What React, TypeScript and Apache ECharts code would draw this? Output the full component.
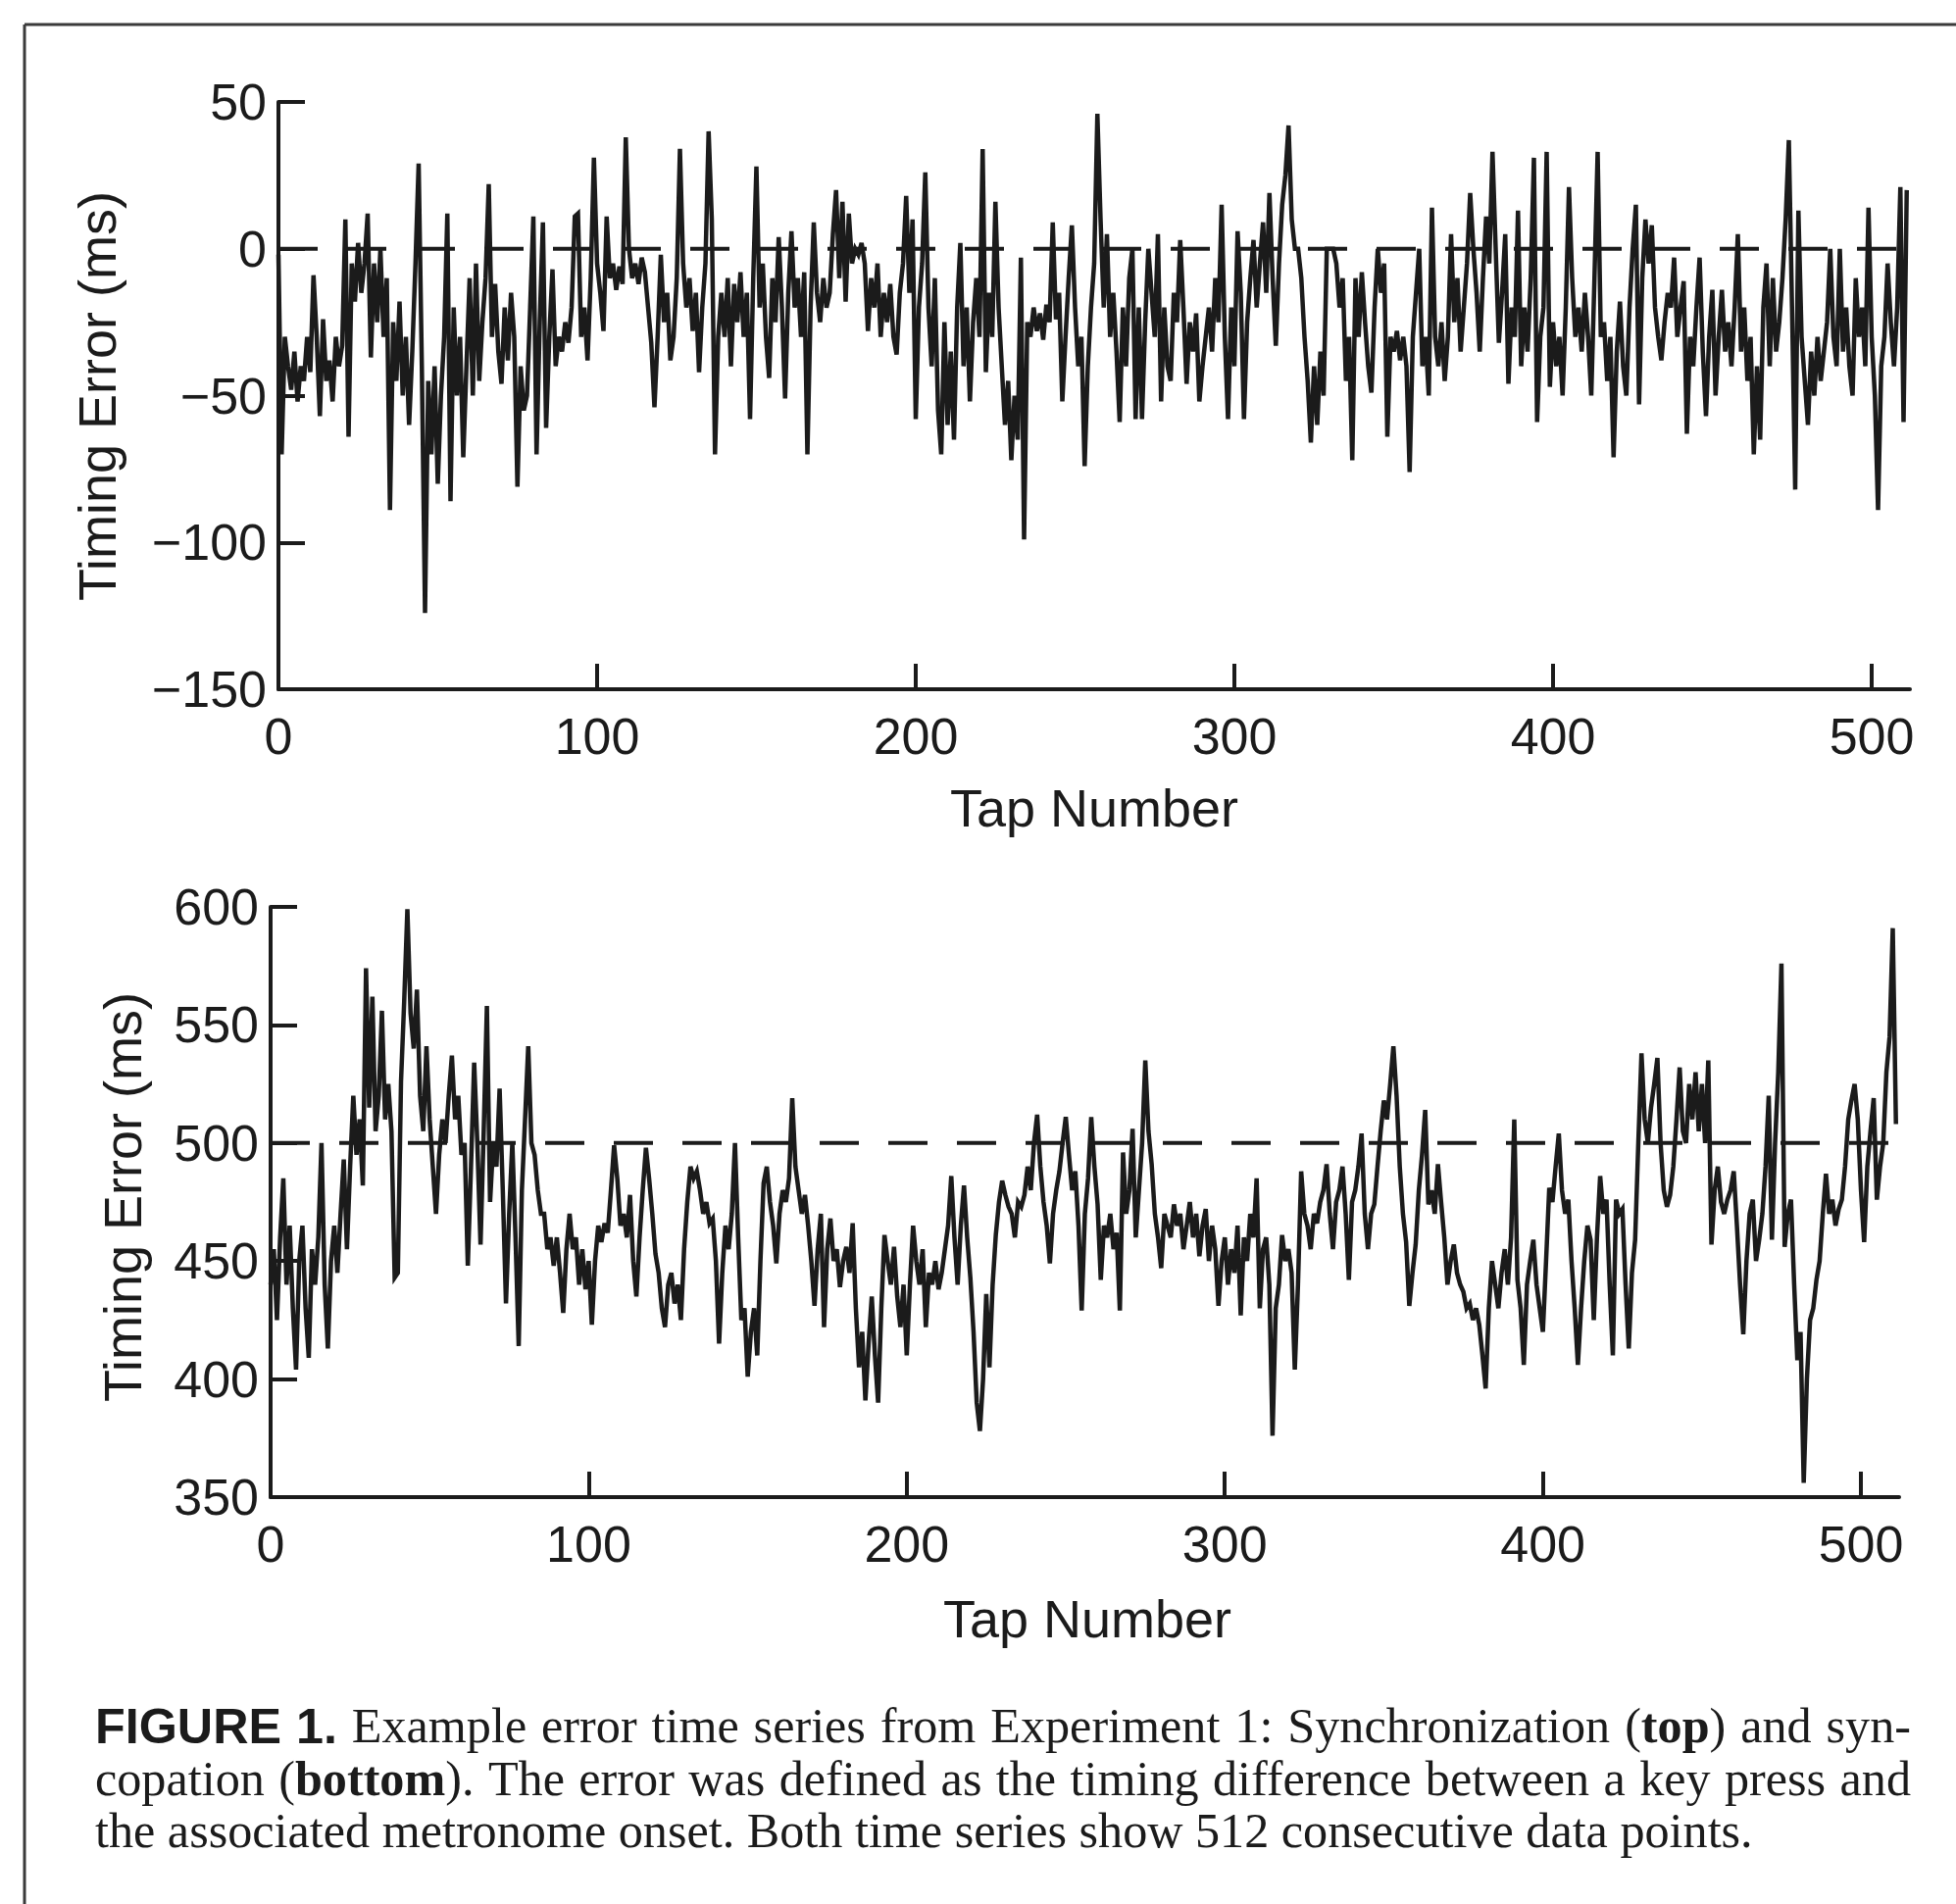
import React, { useEffect, useRef } from "react";
import * as echarts from "echarts";

const W = 1995;
const H = 1942;

const xTickValues = [0, 100, 200, 300, 400, 500];
const tapCount = 512;

const syncRef = 0;
const syncoRef = 500;

// Synchronization timing error (ms), taps 0..511
const syncError = [
  -2, -70, -30, -40, -48, -35, -52, -40, -45, -30, -42, -9, -30, -57, -24, -45,
  -38, -52, -30, -40, -33, 10, -64, -5, -18, 2, -15, -5, 12, -37, -5, -25,
  0, -30, -10, -89, -25, -45, -18, -50, -30, -60, -35, -5, 29, -40, -124, -45,
  -70, -40, -80, -50, -30, 12, -86, -20, -50, -30, -71, -40, -10, -50, -5, -45,
  -25, -10, 22, -30, -12, -35, -46, -20, -38, -15, -30, -81, -40, -55, -50, -20,
  11, -70, -25, 9, -61, -30, -7, -40, -30, -35, -25, -32, -20, 11, 12, -30,
  -20, -38, -10, 31, -5, -15, -28, 11, -10, -5, -14, -6, -12, 38, 0, -10,
  -5, -12, -3, -8, -20, -32, -54, -30, -2, -25, -15, -38, -30, -10, 34, -5,
  -20, -10, -28, -15, -42, -20, -5, 40, 10, -70, -30, -15, -30, -10, -40, -12,
  -25, -8, -30, -15, -58, -10, 28, -20, -5, -30, -44, -10, -25, 4, -20, -51,
  -15, 6, -20, -10, -30, -8, -70, -20, 9, -15, -25, -10, -20, -15, 5, 20,
  -10, 16, -18, 12, -5, 0, -2, 2, -5, -28, -10, -20, -5, -30, -15, -25,
  -12, -30, -36, -15, -5, 18, -15, 10, -58, -20, -5, 26, -20, -40, -10, -55,
  -70, -25, -60, -35, -65, -20, 2, -40, -20, -52, -25, -10, -30, 34, -42, -15,
  -30, 16, -20, -40, -60, -45, -72, -50, -65, -3, -99, -25, -30, -20, -28, -22,
  -31, -19, -25, 9, -24, -15, -52, -30, -10, 8, -20, -40, -30, -74, -40, -20,
  -5, 46, 10, -20, 5, -30, -15, -35, -59, -20, -40, -10, 0, -58, -20, -58,
  -25, 0, -15, -30, 5, -52, -20, -40, -45, -15, -25, 3, -20, -46, -25, -35,
  -22, -52, -40, -30, -20, -35, -10, -25, 15, -30, -58, -20, -40, 6, -15, -58,
  -25, -10, 3, -20, -5, 9, -15, 19, -10, -33, -5, 15, 25, 42, 10, 0,
  0, -10, -30, -45, -66, -40, -60, -35, -50, 0, 0, 0, -5, -20, -10, -45,
  -30, -72, -10, -30, -8, -25, -40, -49, -20, 0, -15, -5, -64, -30, -35, -28,
  -38, -30, -40, -76, -30, -15, 0, -40, -30, -50, 14, -30, -40, -25, -45, -30,
  5, -25, -10, -35, -20, -5, 19, 0, -15, -35, -10, 11, -5, 33, 0, -32,
  -15, 5, -46, -20, -30, 13, -40, -20, -35, -10, 31, -59, -30, -20, 33, -47,
  -25, -40, -30, -50, -20, 21, -10, -30, -20, -35, -15, -30, -50, -10, 33, -30,
  -25, -45, -30, -71, -35, -18, -40, -50, -20, 0, 15, -53, -10, 10, -5, 8,
  -20, -30, -38, -25, -15, -20, -3, -30, -20, -11, -63, -30, -40, -20, -3, -35,
  -57, -30, -14, -50, -30, -14, -35, -25, -40, -20, 5, -35, -20, -45, -30, -70,
  -40, -65, -20, -5, -40, -10, -35, -25, -10, 10, 37, -20, -82, 13, -30, -45,
  -60, -35, -50, -30, -45, -35, -25, 0, -30, -40, 0, -35, -20, -40, -50, -10,
  -30, -20, -40, 14, -30, -50, -89, -40, -30, -5, -25, -40, -20, 21, -59, 20,
];

// Syncopation timing error (ms), taps 0..511
const syncoError = [
  440, 455, 425, 460, 485, 440, 465, 430, 404, 450, 465, 430, 409, 455, 440, 460,
  500, 440, 413, 450, 465, 445, 470, 493, 455, 490, 520, 495, 510, 482, 574, 515,
  562, 505, 520, 556, 510, 525, 505, 443, 445, 526, 560, 599, 555, 540, 565, 520,
  505, 541, 510, 490, 470, 495, 510, 500, 520, 537, 510, 520, 495, 500, 448, 490,
  534, 500, 457, 505, 558, 475, 500, 490, 523, 480, 432, 470, 500, 460, 414, 480,
  510, 541, 500, 495, 480, 470, 470, 455, 460, 448, 460, 445, 428, 455, 470, 455,
  460, 440, 455, 438, 450, 423, 450, 465, 458, 466, 462, 480, 499, 485, 465, 470,
  460, 478, 450, 435, 460, 480, 498, 485, 470, 453, 445, 430, 422, 440, 445, 432,
  440, 425, 455, 475, 490, 485, 488, 480, 470, 475, 466, 468, 450, 415, 445, 465,
  455, 470, 500, 460, 425, 430, 401, 420, 430, 410, 450, 483, 490, 475, 465, 449,
  470, 480, 475, 485, 519, 490, 480, 470, 478, 465, 450, 431, 455, 470, 422, 455,
  468, 450, 455, 439, 450, 456, 445, 466, 430, 405, 420, 391, 415, 435, 410, 390,
  430, 461, 450, 440, 456, 435, 422, 440, 410, 440, 465, 450, 440, 455, 422, 445,
  440, 450, 438, 445, 455, 465, 486, 460, 440, 465, 482, 460, 443, 420, 390, 378,
  400, 436, 405, 440, 461, 475, 484, 478, 473, 470, 460, 475, 473, 478, 490, 480,
  500, 512, 490, 475, 465, 449, 470, 480, 488, 500, 511, 495, 480, 488, 465, 429,
  470, 485, 511, 490, 474, 442, 465, 460, 470, 455, 462, 429, 496, 470, 480, 506,
  460, 480, 500, 535, 505, 491, 470, 460, 447, 470, 465, 460, 474, 465, 470, 455,
  465, 475, 460, 470, 452, 465, 472, 450, 465, 455, 431, 450, 460, 440, 455, 445,
  465, 427, 460, 450, 470, 460, 485, 430, 455, 460, 440, 376, 430, 440, 461, 450,
  455, 445, 404, 440, 488, 470, 465, 455, 470, 466, 475, 480, 491, 470, 455, 475,
  480, 490, 470, 442, 475, 480, 490, 504, 470, 455, 470, 474, 490, 505, 518, 510,
  525, 541, 520, 490, 470, 458, 431, 445, 457, 480, 495, 514, 474, 480, 470, 491,
  475, 460, 440, 450, 457, 445, 440, 437, 430, 432, 425, 430, 423, 410, 396, 430,
  450, 440, 430, 445, 455, 440, 460, 510, 442, 430, 406, 440, 450, 459, 440, 430,
  420, 450, 481, 475, 490, 504, 480, 470, 476, 450, 430, 406, 430, 450, 465, 459,
  425, 460, 486, 470, 476, 440, 410, 476, 470, 472, 440, 413, 445, 459, 500, 538,
  510, 500, 515, 525, 536, 500, 480, 473, 478, 490, 510, 532, 505, 500, 525, 510,
  530, 505, 525, 500, 535, 457, 480, 490, 475, 470, 476, 480, 488, 465, 440, 419,
  450, 470, 476, 450, 459, 470, 490, 520, 459, 500, 530, 576, 456, 470, 476, 440,
  408, 420, 356, 400, 425, 430, 442, 450, 470, 487, 470, 476, 465, 472, 476, 490,
  510, 518, 525, 510, 480, 458, 490, 505, 519, 476, 490, 500, 530, 545, 591, 508,
];

const yAxisTitle = "Timing Error (ms)";
const xAxisTitle = "Tap Number";

const captionLines = [
  "##FIGURE ##1. Example error time series from Experiment 1: Synchronization (**top**) and syn-",
  "copation (**bottom**). The error was defined as the timing difference between a key press and",
  "the associated metronome onset. Both time series show 512 consecutive data points.",
];

const INK = "#1b1b1b";

type Run = { t: string; k: "reg" | "bold" | "sans" };

function runsOf(word: string): Run[] {
  if (word.startsWith("##")) return [{ t: word.slice(2), k: "sans" }];
  const out: Run[] = [];
  const re = /\*\*(.+?)\*\*/g;
  let last = 0;
  let m: RegExpExecArray | null;
  while ((m = re.exec(word))) {
    if (m.index > last) out.push({ t: word.slice(last, m.index), k: "reg" });
    out.push({ t: m[1], k: "bold" });
    last = re.lastIndex;
  }
  if (last < word.length) out.push({ t: word.slice(last), k: "reg" });
  return out;
}

function buildCaption(): any[] {
  const ctx = document.createElement("canvas").getContext("2d")!;
  const fam = (k: Run["k"]) => (k === "sans" ? '"Liberation Sans"' : '"Liberation Serif"');
  const wt = (k: Run["k"]) => (k === "reg" ? "normal" : "bold");
  const measure = (t: string, k: Run["k"], size: number) => {
    ctx.font = `${wt(k)} ${size}px ${fam(k)}`;
    return ctx.measureText(t).width;
  };
  const left = 97;
  const right = 1949;
  const line3Width = 1691;
  const figWidth = 246;
  const serifSize = (100 * line3Width) / measure(captionLines[2].replace(/\*\*|##/g, ""), "reg", 100);
  const sansSize = (100 * figWidth) / measure("FIGURE 1.", "sans", 100);
  const sizeOf = (k: Run["k"]) => (k === "sans" ? sansSize : serifSize);
  const baselines = [1777, 1831, 1884];
  const els: any[] = [];
  captionLines.forEach((line, li) => {
    const words = line.split(" ").map(runsOf);
    const widths = words.map((rs) => rs.reduce((s, r) => s + measure(r.t, r.k, sizeOf(r.k)), 0));
    const total = widths.reduce((a, b) => a + b, 0);
    const justify = li < captionLines.length - 1;
    const gap = justify ? (right - left - total) / (words.length - 1) : measure(" ", "reg", serifSize);
    let x = left;
    words.forEach((rs, wi) => {
      let rx = x;
      rs.forEach((r) => {
        const sz = sizeOf(r.k);
        els.push({
          type: "text",
          x: rx,
          y: baselines[li] - 0.3375 * sz,
          silent: true,
          style: {
            text: r.t,
            fontSize: sz,
            fontFamily: r.k === "sans" ? "Liberation Sans" : "Liberation Serif",
            fontWeight: r.k === "reg" ? "normal" : "bold",
            fill: INK,
            align: "left",
            verticalAlign: "middle",
          },
        });
        rx += measure(r.t, r.k, sz);
      });
      x += widths[wi] + gap;
    });
  });
  return els;
}

function makeXAxis(gridIndex: number) {
  return {
    type: "value",
    gridIndex,
    min: 0,
    max: tapCount,
    interval: 100,
    axisLine: { show: true, onZero: false, lineStyle: { color: INK, width: 4 } },
    axisTick: {
      show: true,
      inside: true,
      length: 26,
      customValues: xTickValues,
      lineStyle: { color: INK, width: 4 },
    },
    axisLabel: {
      show: true,
      margin: 22,
      fontSize: 52,
      fontFamily: "Liberation Sans",
      color: INK,
      customValues: xTickValues,
    },
    splitLine: { show: false },
  };
}

function makeYAxis(gridIndex: number, min: number, max: number) {
  return {
    type: "value",
    gridIndex,
    min,
    max,
    interval: 50,
    axisLine: { show: true, onZero: false, lineStyle: { color: INK, width: 4 } },
    axisTick: { show: true, inside: true, length: 27, lineStyle: { color: INK, width: 4 } },
    axisLabel: {
      show: true,
      margin: 12,
      fontSize: 52,
      fontFamily: "Liberation Sans",
      color: INK,
      formatter: (v: number) => String(v).replace("-", "\u2212"),
    },
    splitLine: { show: false },
  };
}

export default function App() {
  const ref = useRef<HTMLDivElement>(null);
  useEffect(() => {
    document.body.style.margin = "0";
    const chart = echarts.init(ref.current!, null, { renderer: "svg", width: W, height: H });
    const titleStyle = {
      fontSize: 54,
      fontFamily: "Liberation Sans",
      fill: INK,
      align: "center",
      verticalAlign: "middle",
    };
    const graphic: any[] = [
      { type: "line", silent: true, shape: { x1: 25, y1: 25, x2: W, y2: 25 }, style: { stroke: "#3a3a3a", lineWidth: 3 } },
      { type: "line", silent: true, shape: { x1: 25, y1: 25, x2: 25, y2: H }, style: { stroke: "#3a3a3a", lineWidth: 3 } },
      { type: "text", x: 99, y: 404, rotation: Math.PI / 2, silent: true, style: { ...titleStyle, text: yAxisTitle } },
      { type: "text", x: 125, y: 1221, rotation: Math.PI / 2, silent: true, style: { ...titleStyle, text: yAxisTitle } },
      { type: "text", x: 1116, y: 824, silent: true, style: { ...titleStyle, text: xAxisTitle } },
      { type: "text", x: 1109, y: 1651, silent: true, style: { ...titleStyle, text: xAxisTitle } },
      ...buildCaption(),
    ];
    const option: any = {
      animation: false,
      backgroundColor: "#ffffff",
      grid: [
        { left: 284, top: 104, width: 1664, height: 599 },
        { left: 276, top: 925, width: 1661, height: 602 },
      ],
      xAxis: [makeXAxis(0), makeXAxis(1)],
      yAxis: [makeYAxis(0, -150, 50), makeYAxis(1, 350, 600)],
      series: [
        {
          type: "line",
          xAxisIndex: 0,
          yAxisIndex: 0,
          data: [[0, syncRef], [tapCount, syncRef]],
          symbol: "none",
          silent: true,
          z: 2,
          lineStyle: { color: INK, width: 4, type: [40, 30] },
        },
        {
          type: "line",
          xAxisIndex: 0,
          yAxisIndex: 0,
          data: syncError.map((v, i) => [i, v]),
          symbol: "none",
          silent: true,
          z: 3,
          lineStyle: { color: INK, width: 4.5, join: "miter", miterLimit: 4 },
        },
        {
          type: "line",
          xAxisIndex: 1,
          yAxisIndex: 1,
          data: [[0, syncoRef], [tapCount, syncoRef]],
          symbol: "none",
          silent: true,
          z: 2,
          lineStyle: { color: INK, width: 4, type: [40, 30] },
        },
        {
          type: "line",
          xAxisIndex: 1,
          yAxisIndex: 1,
          data: syncoError.map((v, i) => [i, v]),
          symbol: "none",
          silent: true,
          z: 3,
          lineStyle: { color: INK, width: 4.5, join: "miter", miterLimit: 4 },
        },
      ],
      graphic,
    };
    chart.setOption(option);
    return () => chart.dispose();
  }, []);
  return (
    <div
      ref={ref}
      style={{ position: "absolute", left: 0, top: 0, width: W, height: H, background: "#fff" }}
    />
  );
}
